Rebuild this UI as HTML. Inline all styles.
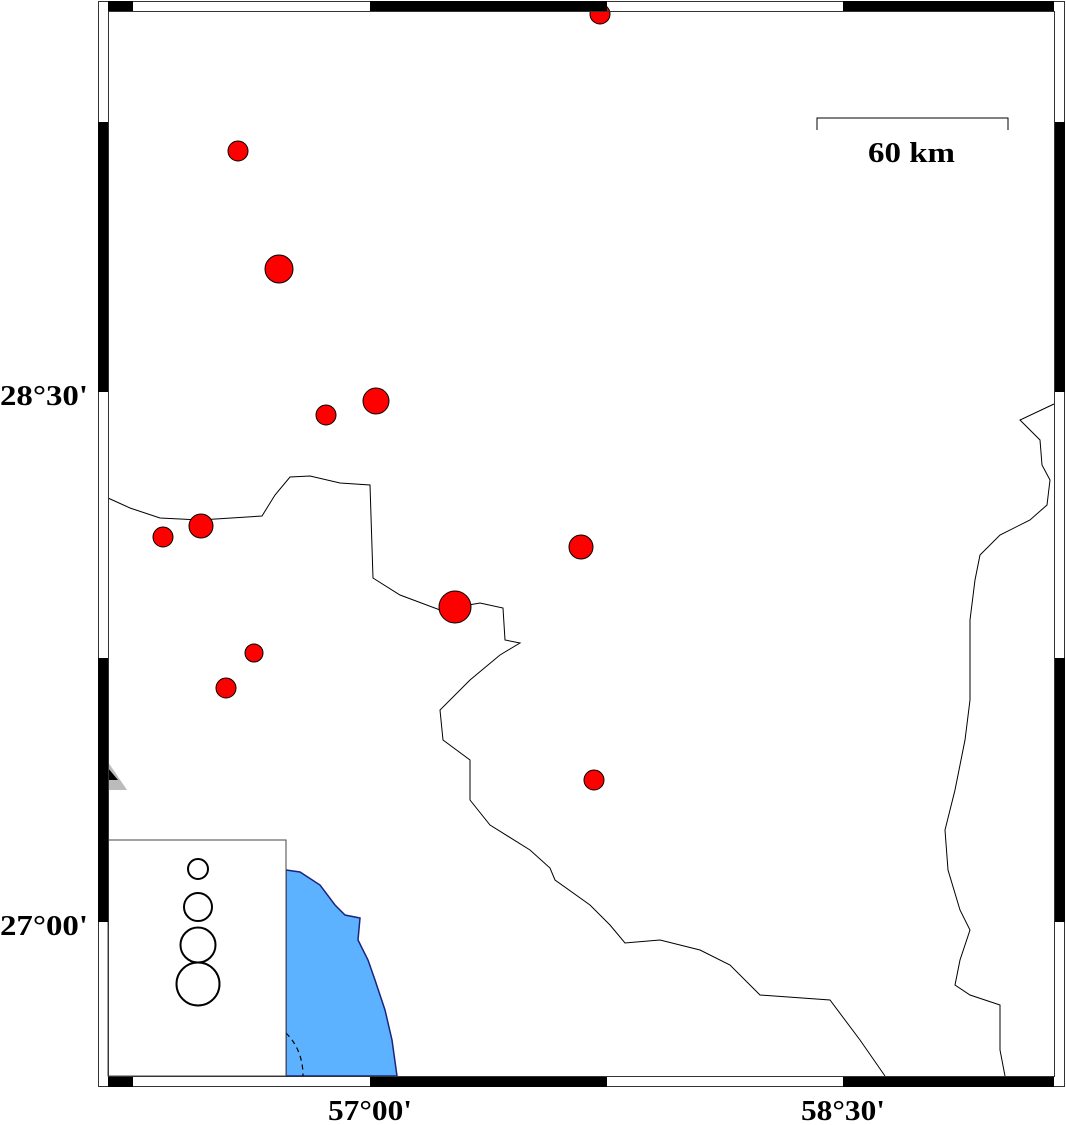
<!DOCTYPE html>
<html><head><meta charset="utf-8"><style>
html,body{margin:0;padding:0;background:#fff;width:1066px;height:1125px;overflow:hidden}
svg text{font-family:"Liberation Serif",serif;font-weight:bold}
</style></head><body>
<svg width="1066" height="1125" viewBox="0 0 1066 1125" xmlns="http://www.w3.org/2000/svg">
<path d="M286,870 L300,872 L320,885 L335,905 L345,915 L360,918 L358,940 L368,960 L375,980 L385,1010 L392,1040 L397,1076 L286,1076 Z" fill="#5db2ff" stroke="#1a237e" stroke-width="1.5"/>
<path d="M286,1033 Q303,1050 303,1076" fill="none" stroke="#000" stroke-width="1.2" stroke-dasharray="5,4"/>
<path d="M108,498 L130,508 L160,518 L200,520 L262,516 L275,495 L290,477 L310,476 L340,483 L370,485 L373,578 L400,595 L440,610 L480,603 L503,608 L505,640 L520,643 L500,655 L470,680 L440,710 L443,740 L470,760 L470,800 L490,825 L530,850 L550,868 L555,880 L590,905 L610,925 L625,943 L660,940 L700,950 L730,965 L760,995 L830,1000 L860,1040 L885,1076" fill="none" stroke="#000" stroke-width="1"/>
<path d="M1054,404 L1020,420 L1040,440 L1042,465 L1050,480 L1047,505 L1030,520 L1000,535 L980,555 L975,580 L970,620 L970,700 L965,740 L955,790 L945,830 L948,870 L960,910 L970,930 L960,960 L955,985 L970,995 L1000,1005 L1000,1050 L1005,1076" fill="none" stroke="#000" stroke-width="1"/>
<path d="M108,762 L127,790 L108,790 Z" fill="#bbb"/>
<path d="M108,768 L118,780 L108,780 Z" fill="#000"/>
<g fill="#f00" stroke="#000" stroke-width="1">
<circle cx="600" cy="14" r="10"/>
<circle cx="238" cy="151" r="10"/>
<circle cx="279" cy="269" r="14"/>
<circle cx="326" cy="415" r="10"/>
<circle cx="376" cy="401" r="13"/>
<circle cx="163" cy="537" r="10"/>
<circle cx="201" cy="526" r="12"/>
<circle cx="581" cy="547" r="12"/>
<circle cx="455" cy="607" r="16"/>
<circle cx="254" cy="653" r="9"/>
<circle cx="226" cy="688" r="10"/>
<circle cx="594" cy="780" r="10"/>
</g>
<rect x="108" y="840" width="178" height="236" fill="#fff" stroke="#444" stroke-width="1"/>
<g fill="none" stroke="#000" stroke-width="2">
<circle cx="198" cy="869" r="10"/>
<circle cx="198" cy="907" r="14"/>
<circle cx="198" cy="945" r="17.5"/>
<circle cx="198" cy="984" r="21.5"/>
</g>
<path d="M817,130 L817,118 L1008,118 L1008,130" fill="none" stroke="#000" stroke-width="1"/>
<text x="868" y="162" font-size="28" textLength="87" lengthAdjust="spacingAndGlyphs">60 km</text>
<rect x="98.5" y="1.5" width="966" height="1085" fill="none" stroke="#333" stroke-width="1"/>
<rect x="108.5" y="11.5" width="946" height="1065" fill="none" stroke="#333" stroke-width="1"/>
<g fill="#000">
<rect x="108" y="1" width="25" height="10"/><rect x="370" y="1" width="237" height="10"/><rect x="843" y="1" width="211" height="10"/>
<rect x="108" y="1077" width="25" height="10"/><rect x="370" y="1077" width="237" height="10"/><rect x="843" y="1077" width="211" height="10"/>
<rect x="98" y="122" width="10" height="270"/><rect x="98" y="658" width="10" height="264"/>
<rect x="1055" y="122" width="10" height="270"/><rect x="1055" y="658" width="10" height="264"/>
</g>
<text x="0" y="405" font-size="29" textLength="88" lengthAdjust="spacingAndGlyphs">28°30'</text>
<text x="0" y="935" font-size="29" textLength="88" lengthAdjust="spacingAndGlyphs">27°00'</text>
<text x="328" y="1120" font-size="29" textLength="84" lengthAdjust="spacingAndGlyphs">57°00'</text>
<text x="801" y="1120" font-size="29" textLength="84" lengthAdjust="spacingAndGlyphs">58°30'</text>
</svg>
</body></html>
